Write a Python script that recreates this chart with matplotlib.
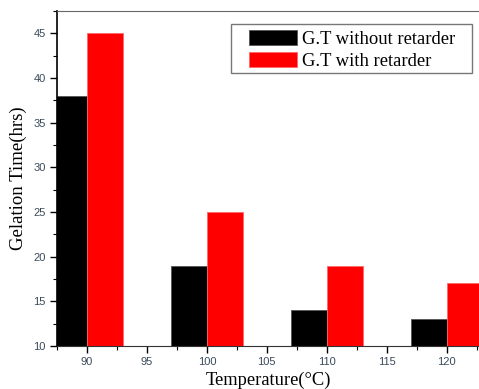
import matplotlib.pyplot as plt
from matplotlib.patches import Rectangle
from matplotlib.ticker import MultipleLocator

# Gelation time at each temperature, with and without retarder
temperature = [90, 100, 110, 120]
gt_without = [38, 19, 14, 13]
gt_with = [45, 25, 19, 17]

bar_w = 3

fig = plt.figure(figsize=(4.79, 3.89), dpi=100)
ax = fig.add_axes([0.119, 0.1105, 0.881, 0.861])

ax.bar([t - bar_w / 2 for t in temperature], gt_without, width=bar_w,
       color='black', edgecolor='#555555', linewidth=0.6,
       label='G.T without retarder')
ax.bar([t + bar_w / 2 for t in temperature], gt_with, width=bar_w,
       color='red', edgecolor='#ff6666', linewidth=0.6,
       label='G.T with retarder')

ax.set_xlim(87.5, 122.7)
ax.set_ylim(10, 47.5)
ax.xaxis.set_major_locator(MultipleLocator(5))
ax.xaxis.set_minor_locator(MultipleLocator(2.5))
ax.yaxis.set_major_locator(MultipleLocator(5))
ax.yaxis.set_minor_locator(MultipleLocator(2.5))

ax.tick_params(which='major', direction='out', length=5, width=1,
               labelsize=8, labelcolor='#3a4a5a', pad=3)
ax.tick_params(which='minor', direction='out', length=3, width=0.8)
for lab in ax.get_xticklabels() + ax.get_yticklabels():
    lab.set_family('Liberation Sans')

ax.spines['right'].set_visible(False)
ax.spines['top'].set_color('#666666')
ax.spines['left'].set_linewidth(1.2)
ax.spines['bottom'].set_color('#333333')

ax.set_xlabel('Temperature(°C)', family='Liberation Serif', fontsize=13.3,
              labelpad=3)
ax.set_ylabel('Gelation Time(hrs)', family='Liberation Serif', fontsize=13.5,
              labelpad=5)

# legend entries without frame, box drawn separately for wider side padding
leg = ax.legend(loc='upper left', bbox_to_anchor=(0.455, 0.943),
                prop={'family': 'Liberation Serif', 'size': 13.4},
                frameon=False, handlelength=2.6, handleheight=0.86,
                handletextpad=0.27, borderpad=0, labelspacing=0.2,
                borderaxespad=0)
ax.add_patch(Rectangle((0.412, 0.815), 0.983 - 0.412, 0.961 - 0.815,
                       transform=ax.transAxes, fill=False,
                       edgecolor='#777777', linewidth=1, zorder=5))

fig.savefig('out.png', dpi=100)
